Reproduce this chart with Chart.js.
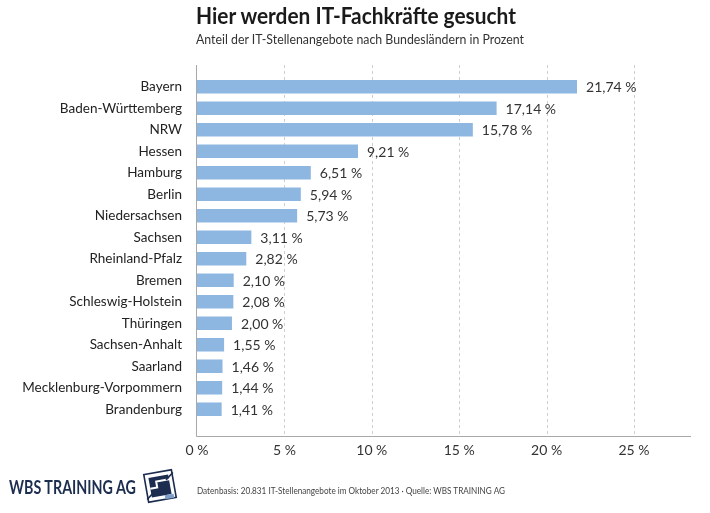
<!DOCTYPE html>
<html>
<head>
<meta charset="utf-8">
<script src="https://cdn.jsdelivr.net/npm/chart.js@4.4.1/dist/chart.umd.min.js"></script>
<style>
  html, body { margin: 0; padding: 0; background: #fff; }
  #wrap { position: relative; width: 710px; height: 513px; overflow: hidden; font-family: Lato, "Open Sans", sans-serif; }
  #chart { position: absolute; left: 0; top: 0; }
  .fit { position: absolute; white-space: nowrap; transform-origin: 0 50%; }
  .titel { left: 196px; top: 2px; font-size: 22px; font-weight: bold; color: #1a1a1a; }
  .untertitel { left: 196px; top: 30px; font-size: 14px; color: #333; }
  .quelle { left: 197px; top: 484px; font-size: 10px; color: #444; }
  .logo { left: 9px; top: 476px; font-size: 18px; font-weight: bold; color: #1c2d4f; }
  #icon { position: absolute; left: 141px; top: 467px; }
</style>
</head>
<body>
<div id="wrap">
  <canvas id="chart" width="710" height="513"></canvas>
  <div class="fit titel" data-w="320">Hier werden IT-Fachkräfte gesucht</div>
  <div class="fit untertitel" data-w="328">Anteil der IT-Stellenangebote nach Bundesländern in Prozent</div>
  <div class="fit logo" data-w="127">WBS TRAINING AG</div>
  <svg id="icon" width="38" height="38" viewBox="0 0 38 38">
    <g transform="rotate(-10 19 19)">
      <rect x="5" y="5" width="28" height="28" fill="#fff" stroke="#1c2d4f" stroke-width="1.6"/>
      <rect x="9" y="9" width="20" height="20" fill="#1c2d4f"/>
      <path d="M9 20 H16 V14 H29" fill="none" stroke="#fff" stroke-width="2"/>
      <path d="M4 30 L12 24" stroke="#1c2d4f" stroke-width="1.6"/>
      <path d="M26 14 L34 8" stroke="#1c2d4f" stroke-width="1.6"/>
      <rect x="22" y="29" width="9" height="4" fill="#7d9cc8"/>
    </g>
  </svg>
  <div class="fit quelle" data-w="308">Datenbasis: 20.831 IT-Stellenangebote im Oktober 2013 · Quelle: WBS TRAINING AG</div>
</div>
<script>
// Daten
const laender = ["Bayern", "Baden-Württemberg", "NRW", "Hessen", "Hamburg", "Berlin", "Niedersachsen",
  "Sachsen", "Rheinland-Pfalz", "Bremen", "Schleswig-Holstein", "Thüringen", "Sachsen-Anhalt",
  "Saarland", "Mecklenburg-Vorpommern", "Brandenburg"];
const anteile = [21.74, 17.14, 15.78, 9.21, 6.51, 5.94, 5.73, 3.11, 2.82, 2.10, 2.08, 2.00, 1.55, 1.46, 1.44, 1.41];
const xTicks = [0, 5, 10, 15, 20, 25];

const schrift = 'Lato';

function formatProzent(v, stellen) {
  return v.toFixed(stellen).replace('.', ',') + ' %';
}

// Texte auf die Breite im Original bringen
document.querySelectorAll('.fit').forEach(el => {
  const ziel = parseFloat(el.dataset.w);
  const breite = el.getBoundingClientRect().width;
  if (breite > 0) el.style.transform = 'scaleX(' + (ziel / breite) + ')';
});

// Gitterlinien und Achsen etwas über den Diagrammbereich hinaus
const achsenPlugin = {
  id: 'achsen',
  beforeDatasetsDraw(chart) {
    const ctx = chart.ctx;
    const area = chart.chartArea;
    const x = chart.scales.x;
    const oben = area.top - 11;
    const unten = area.bottom + 16;
    ctx.save();
    ctx.strokeStyle = '#cfcfcf';
    ctx.lineWidth = 1;
    ctx.setLineDash([3, 3]);
    xTicks.slice(1).forEach(t => {
      const px = Math.round(x.getPixelForValue(t)) + 0.5;
      ctx.beginPath();
      ctx.moveTo(px, oben);
      ctx.lineTo(px, unten);
      ctx.stroke();
    });
    ctx.setLineDash([]);
    ctx.strokeStyle = '#a8a8a8';
    const x0 = Math.round(x.getPixelForValue(0)) - 0.5;
    ctx.beginPath();
    ctx.moveTo(x0, oben);
    ctx.lineTo(x0, unten + 0.5);
    ctx.lineTo(area.right, unten + 0.5);
    ctx.stroke();
    ctx.restore();
  }
};

// Werte rechts neben den Balken
const wertePlugin = {
  id: 'werte',
  afterDatasetsDraw(chart) {
    const ctx = chart.ctx;
    const meta = chart.getDatasetMeta(0);
    ctx.save();
    ctx.font = '14px ' + schrift;
    ctx.fillStyle = '#333';
    ctx.textBaseline = 'middle';
    ctx.textAlign = 'left';
    meta.data.forEach((bar, i) => {
      ctx.fillText(formatProzent(anteile[i], 2), bar.x + 9, bar.y + 1);
    });
    ctx.restore();
  }
};

new Chart(document.getElementById('chart'), {
  type: 'bar',
  data: {
    labels: laender,
    datasets: [{
      data: anteile,
      backgroundColor: '#8db7e1',
      borderWidth: 0,
      barPercentage: 0.63,
      categoryPercentage: 1
    }]
  },
  options: {
    indexAxis: 'y',
    responsive: false,
    animation: false,
    layout: { padding: { top: 76, right: 19, bottom: 0, left: 0 } },
    plugins: {
      legend: { display: false },
      tooltip: { enabled: false }
    },
    scales: {
      x: {
        min: 0,
        max: 28.26,
        grid: { display: false, drawTicks: false },
        border: { display: false },
        afterFit(scale) { scale.height = 93; },
        afterBuildTicks(scale) { scale.ticks = xTicks.map(v => ({ value: v })); },
        ticks: {
          padding: 22,
          color: '#333',
          font: { family: schrift, size: 14 },
          callback: v => v + ' %'
        }
      },
      y: {
        grid: { display: false, drawTicks: false },
        border: { display: false },
        afterFit(scale) { scale.width = 197; },
        ticks: {
          padding: 15,
          color: '#222',
          font: { family: schrift, size: 13.5 }
        }
      }
    }
  },
  plugins: [achsenPlugin, wertePlugin]
});
</script>
</body>
</html>
